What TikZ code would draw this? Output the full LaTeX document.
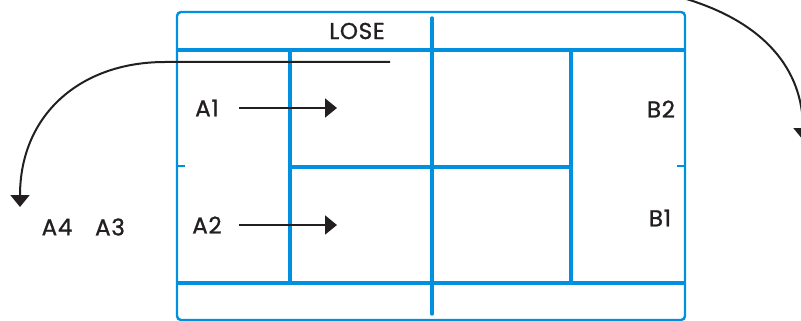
\documentclass[tikz,border=0pt]{standalone}
\usepackage{fontspec}
\setmainfont{Poppins}[FakeBold=1,LetterSpace=3]
\usetikzlibrary{arrows.meta}
\definecolor{court}{RGB}{0,144,223}
\definecolor{ink}{RGB}{35,31,32}
\tikzset{
  outer/.style={draw=court, line width=2.4pt, rounded corners=4pt},
  inner/.style={draw=court, line width=3.4pt},
  lbl/.style={font=\fontsize{23}{26}\selectfont, text=ink, inner sep=0pt},
  arr/.style={draw=ink, line width=2pt, -{Triangle[length=12pt,width=19pt]}},
}
\begin{document}
\begin{tikzpicture}[x=1pt,y=-1pt]
\useasboundingbox (0,0) rectangle (801,321);
\clip (0,0) rectangle (801,321);
% court
\draw[outer] (177,12) rectangle (685,320);
\draw[inner] (177,50) -- (685,50);
\draw[inner] (177,283) -- (685,283);
\draw[inner] (290,50) -- (290,283);
\draw[inner] (571,50) -- (571,283);
\draw[inner] (290,167) -- (571,167);
\draw[inner, line cap=round] (432,18) -- (432,314);
\draw[draw=court, line width=2.4pt] (177,166) -- (185,166);
\draw[draw=court, line width=2.4pt] (677,166) -- (685,166);
% labels
\node[lbl] (lose) at (357,31) {LOSE};
\node[lbl] (a1) at (207,108) {A1};
\node[lbl] (a2) at (207,225) {A2};
\node[lbl] (b2) at (661,109) {B2};
\node[lbl] (b1) at (660,218) {B1};
\node[lbl] (a4) at (57,227) {A4};
\node[lbl] (a3) at (110,227) {A3};
% arrows
\coordinate (a1end) at (337,108);
\coordinate (a2end) at (337,225);
\draw[arr] (239,108) -- (a1end);
\draw[arr] (239,225) -- (a2end);
\coordinate (lstart) at (390,62);
\coordinate (lend) at (20,207);
\draw[arr] (lstart) -- (165,62) .. controls (80,62) and (20,115) .. (lend);
\coordinate (rstart) at (676,-4);
\coordinate (rend) at (803,140);
\draw[arr] (rstart) .. controls (765,20) and (803,70) .. (rend);
\end{tikzpicture}
\end{document}
